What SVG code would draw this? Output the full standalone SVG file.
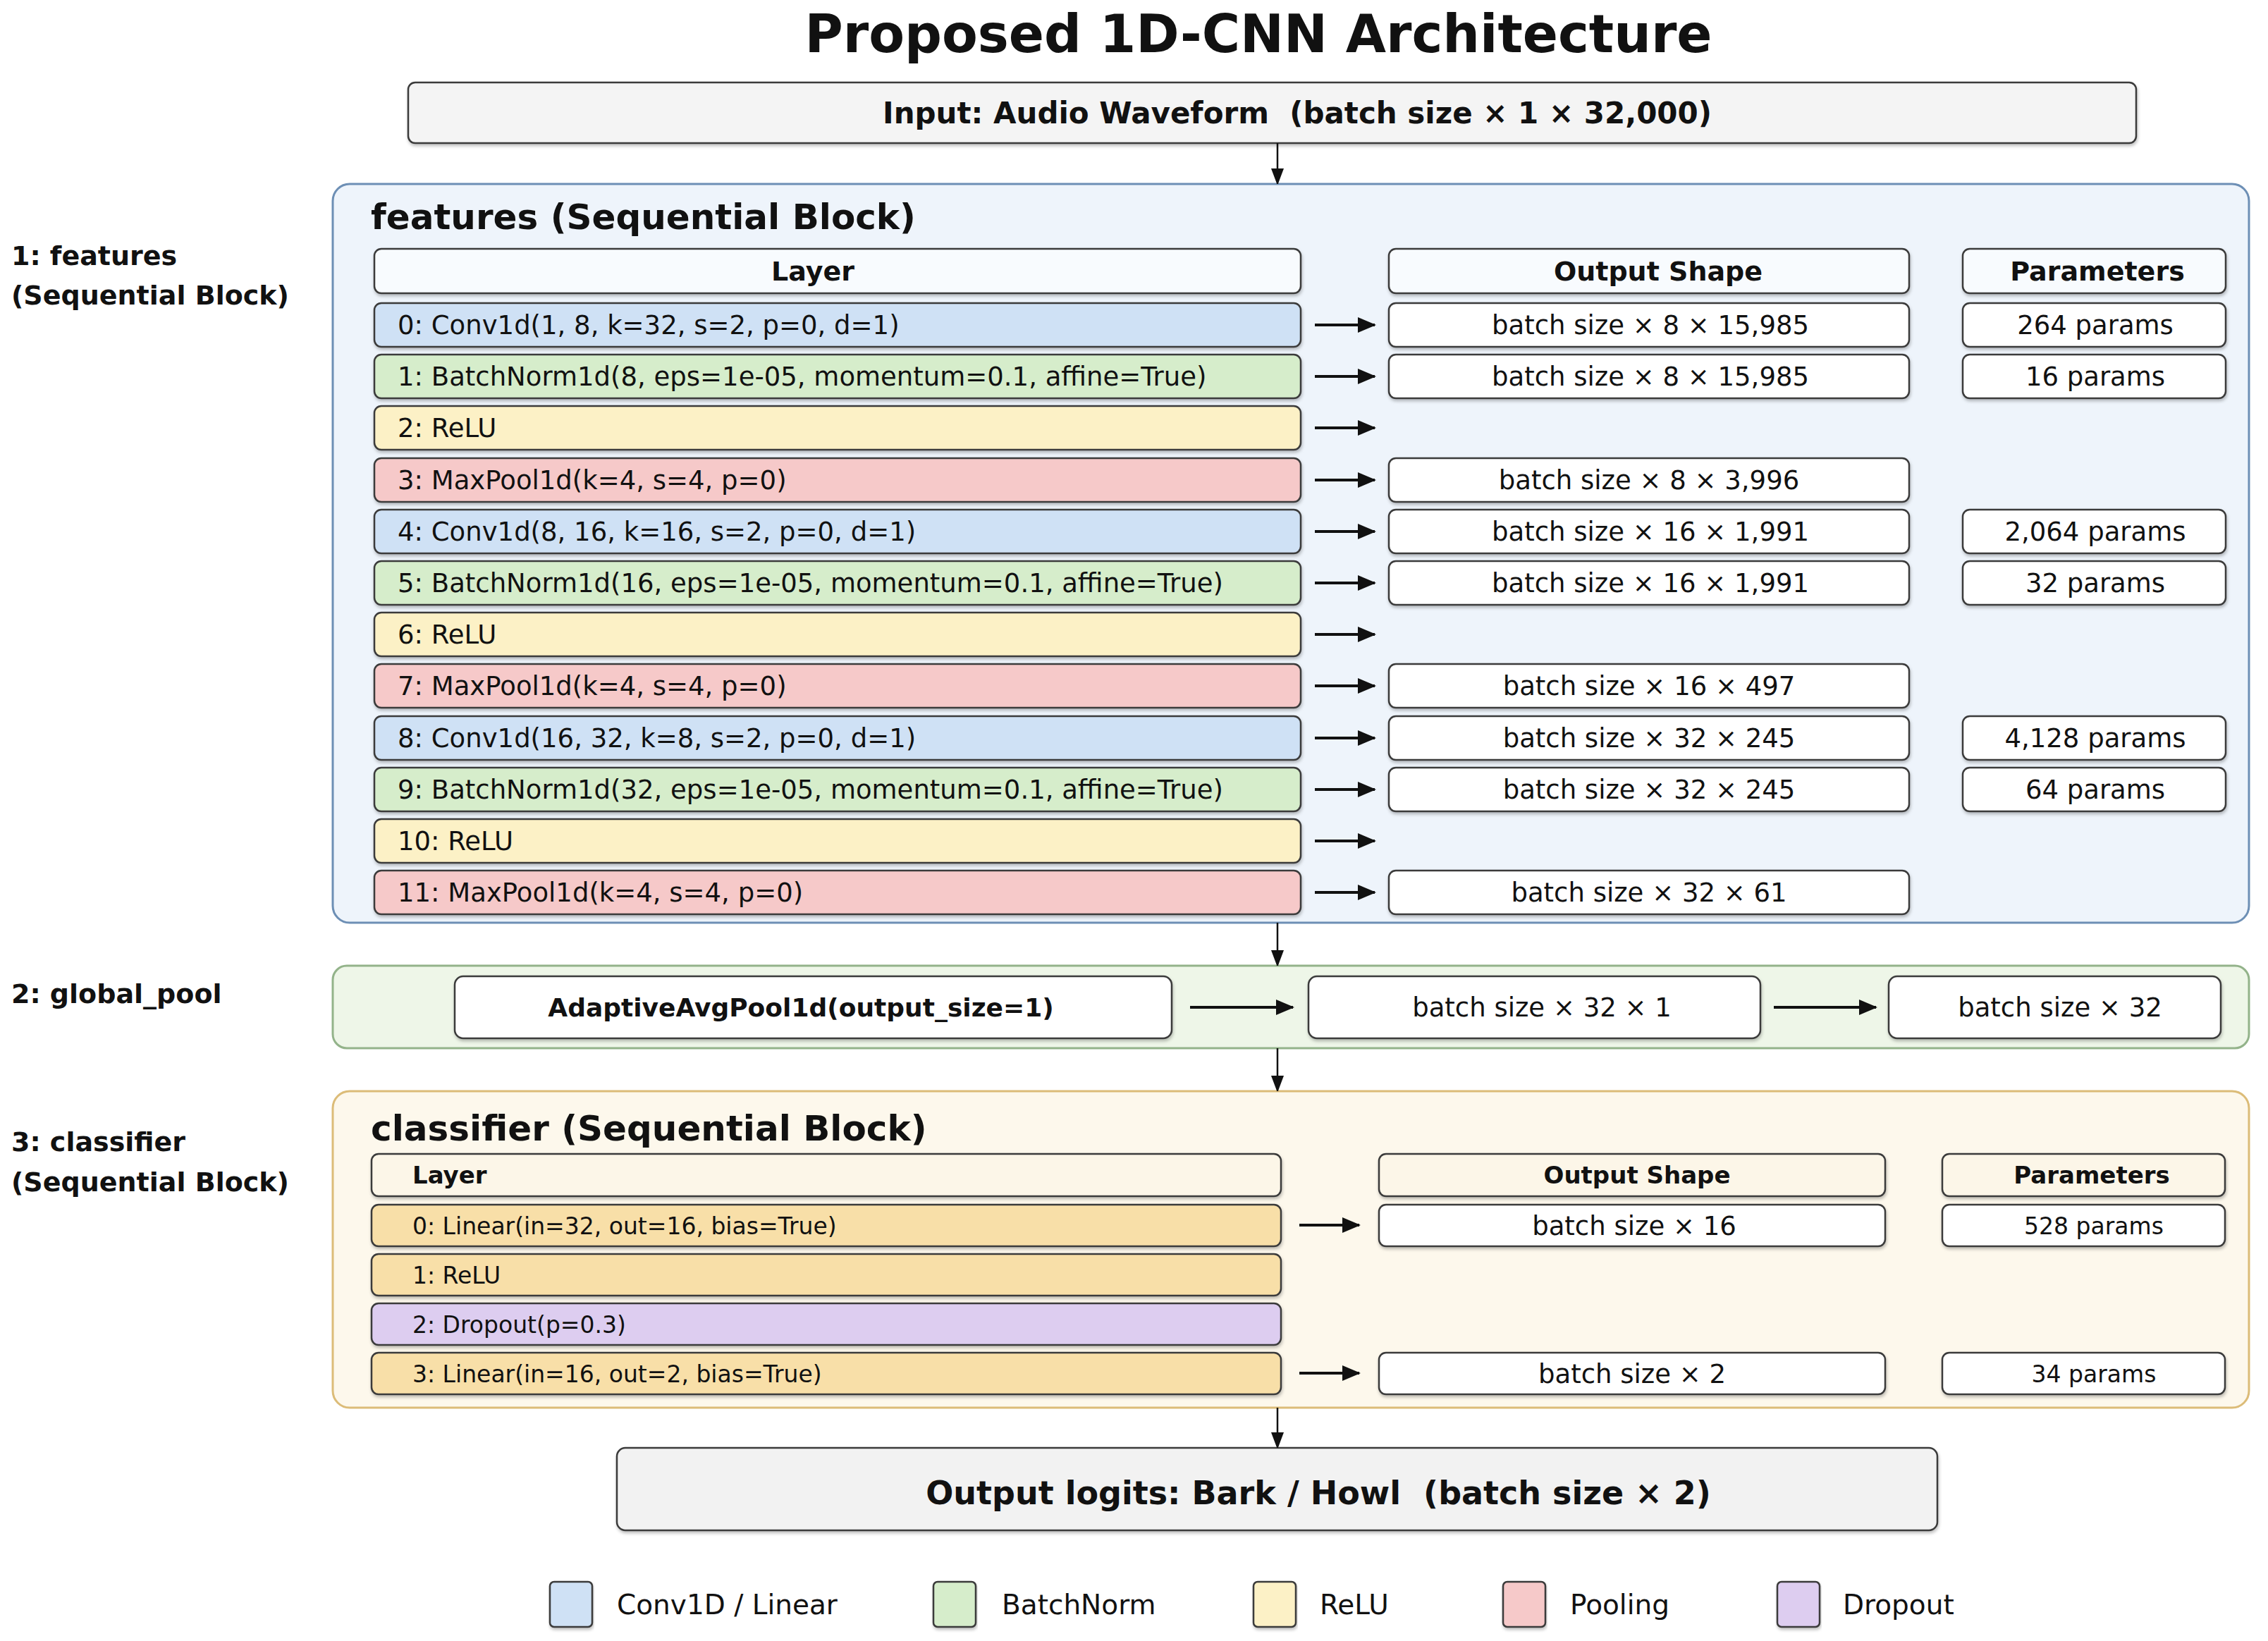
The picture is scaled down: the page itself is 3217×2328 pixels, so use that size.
<svg xmlns="http://www.w3.org/2000/svg" width="3217" height="2328" viewBox="0 0 3217 2328">
<defs>
<style>
text{font-family:"DejaVu Sans","Liberation Sans",sans-serif;fill:#111}
.b{font-weight:bold}
.t1{font-size:37px}
.t2{font-size:33px}
.hd{font-size:38px;font-weight:bold}
.hd2{font-size:34px;font-weight:bold}
.c{text-anchor:middle}
.box{stroke:#3a3a3a;stroke-width:2.5;filter:url(#sh)}
.w{fill:#ffffff}
.hf{fill:#f8fbfe}
.hc{fill:#fcf6e8}
.conv{fill:#cfe1f5}
.bn{fill:#d6edcb}
.relu{fill:#fcf1c6}
.pool{fill:#f6c9c9}
.lin{fill:#f8dfa8}
.drop{fill:#ddcdf0}
.ar{stroke:#111;stroke-width:4;fill:none;marker-end:url(#ah)}
.av{stroke:#111;stroke-width:2.5;fill:none;marker-end:url(#av)}
</style>
<filter id="sh" x="-5%" y="-20%" width="110%" height="150%">
<feDropShadow dx="1" dy="3" stdDeviation="2" flood-color="#000" flood-opacity="0.25"/>
</filter>
<marker id="ah" markerUnits="userSpaceOnUse" markerWidth="26" markerHeight="24" refX="24" refY="12" orient="auto">
<path d="M0,1 L26,12 L0,23 Z" fill="#111"/>
</marker>
<marker id="av" markerUnits="userSpaceOnUse" markerWidth="20" markerHeight="24" refX="22" refY="9" orient="auto">
<path d="M0,0 L24,9 L0,18 Z" fill="#111"/>
</marker>
</defs>
<rect width="3217" height="2328" fill="#ffffff"/>

<text class="b c" x="1785" y="74" font-size="74">Proposed 1D-CNN Architecture</text>

<!-- side labels -->
<g id="side-labels">
<text class="b" x="16" y="376" font-size="38">1: features</text>
<text class="b" x="16" y="432" font-size="38">(Sequential Block)</text>
<text class="b" x="16" y="1423" font-size="38">2: global_pool</text>
<text class="b" x="16" y="1633" font-size="38">3: classifier</text>
<text class="b" x="16" y="1690" font-size="38">(Sequential Block)</text>
</g>

<!-- containers -->
<g id="features-block">
<rect x="472" y="261" width="2718" height="1048" rx="24" fill="#eef4fb" stroke="#6d8fb5" stroke-width="3"/>
<text class="b" x="526" y="325" font-size="50">features (Sequential Block)</text>
</g>
<g id="global-pool-block">
<rect x="472" y="1370" width="2718" height="117" rx="20" fill="#eef6e8" stroke="#93b38a" stroke-width="3"/>
</g>
<g id="classifier-block">
<rect x="472" y="1548" width="2718" height="449" rx="24" fill="#fdf8ec" stroke="#dcbc78" stroke-width="3"/>
<text class="b" x="526" y="1618" font-size="50">classifier (Sequential Block)</text>
</g>

<!-- input / output -->
<g id="input">
<rect class="box" x="579" y="117" width="2451" height="86" rx="10" fill="#f4f4f4"/>
<text class="b c" x="1840" y="175" font-size="42" xml:space="preserve">Input: Audio Waveform  (batch size × 1 × 32,000)</text>
</g>
<g id="output">
<rect class="box" x="875" y="2054" width="1873" height="117" rx="12" fill="#f2f2f2"/>
<text class="b c" x="1870" y="2134" font-size="46" xml:space="preserve">Output logits: Bark / Howl  (batch size × 2)</text>
</g>

<!-- features headers -->
<g id="features-headers">
<rect class="box hf" x="531" y="353" width="1314" height="63" rx="10"/>
<text class="hd c" x="1153" y="398">Layer</text>
<rect class="box hf" x="1970" y="353" width="738" height="63" rx="10"/>
<text class="hd c" x="2352" y="398">Output Shape</text>
<rect class="box hf" x="2784" y="353" width="373" height="63" rx="10"/>
<text class="hd c" x="2975" y="398">Parameters</text>
</g>

<!-- features rows -->
<g id="f0"><rect class="box conv" x="531" y="430" width="1314" height="62" rx="10"/><text class="t1" x="564" y="474">0: Conv1d(1, 8, k=32, s=2, p=0, d=1)</text>
<rect class="box w" x="1970" y="430" width="738" height="62" rx="10"/><text class="t1 c" x="2341" y="474">batch size × 8 × 15,985</text>
<rect class="box w" x="2784" y="430" width="373" height="62" rx="10"/><text class="t1 c" x="2972" y="474">264 params</text></g>

<g id="f1"><rect class="box bn" x="531" y="503" width="1314" height="62" rx="10"/><text class="t1" x="564" y="547">1: BatchNorm1d(8, eps=1e-05, momentum=0.1, affine=True)</text>
<rect class="box w" x="1970" y="503" width="738" height="62" rx="10"/><text class="t1 c" x="2341" y="547">batch size × 8 × 15,985</text>
<rect class="box w" x="2784" y="503" width="373" height="62" rx="10"/><text class="t1 c" x="2972" y="547">16 params</text></g>

<g id="f2"><rect class="box relu" x="531" y="576" width="1314" height="62" rx="10"/><text class="t1" x="564" y="620">2: ReLU</text></g>

<g id="f3"><rect class="box pool" x="531" y="650" width="1314" height="62" rx="10"/><text class="t1" x="564" y="694">3: MaxPool1d(k=4, s=4, p=0)</text>
<rect class="box w" x="1970" y="650" width="738" height="62" rx="10"/><text class="t1 c" x="2339" y="694">batch size × 8 × 3,996</text></g>

<g id="f4"><rect class="box conv" x="531" y="723" width="1314" height="62" rx="10"/><text class="t1" x="564" y="767">4: Conv1d(8, 16, k=16, s=2, p=0, d=1)</text>
<rect class="box w" x="1970" y="723" width="738" height="62" rx="10"/><text class="t1 c" x="2341" y="767">batch size × 16 × 1,991</text>
<rect class="box w" x="2784" y="723" width="373" height="62" rx="10"/><text class="t1 c" x="2972" y="767">2,064 params</text></g>

<g id="f5"><rect class="box bn" x="531" y="796" width="1314" height="62" rx="10"/><text class="t1" x="564" y="840">5: BatchNorm1d(16, eps=1e-05, momentum=0.1, affine=True)</text>
<rect class="box w" x="1970" y="796" width="738" height="62" rx="10"/><text class="t1 c" x="2341" y="840">batch size × 16 × 1,991</text>
<rect class="box w" x="2784" y="796" width="373" height="62" rx="10"/><text class="t1 c" x="2972" y="840">32 params</text></g>

<g id="f6"><rect class="box relu" x="531" y="869" width="1314" height="62" rx="10"/><text class="t1" x="564" y="913">6: ReLU</text></g>

<g id="f7"><rect class="box pool" x="531" y="942" width="1314" height="62" rx="10"/><text class="t1" x="564" y="986">7: MaxPool1d(k=4, s=4, p=0)</text>
<rect class="box w" x="1970" y="942" width="738" height="62" rx="10"/><text class="t1 c" x="2339" y="986">batch size × 16 × 497</text></g>

<g id="f8"><rect class="box conv" x="531" y="1016" width="1314" height="62" rx="10"/><text class="t1" x="564" y="1060">8: Conv1d(16, 32, k=8, s=2, p=0, d=1)</text>
<rect class="box w" x="1970" y="1016" width="738" height="62" rx="10"/><text class="t1 c" x="2339" y="1060">batch size × 32 × 245</text>
<rect class="box w" x="2784" y="1016" width="373" height="62" rx="10"/><text class="t1 c" x="2972" y="1060">4,128 params</text></g>

<g id="f9"><rect class="box bn" x="531" y="1089" width="1314" height="62" rx="10"/><text class="t1" x="564" y="1133">9: BatchNorm1d(32, eps=1e-05, momentum=0.1, affine=True)</text>
<rect class="box w" x="1970" y="1089" width="738" height="62" rx="10"/><text class="t1 c" x="2339" y="1133">batch size × 32 × 245</text>
<rect class="box w" x="2784" y="1089" width="373" height="62" rx="10"/><text class="t1 c" x="2972" y="1133">64 params</text></g>

<g id="f10"><rect class="box relu" x="531" y="1162" width="1314" height="62" rx="10"/><text class="t1" x="564" y="1206">10: ReLU</text></g>

<g id="f11"><rect class="box pool" x="531" y="1235" width="1314" height="62" rx="10"/><text class="t1" x="564" y="1279">11: MaxPool1d(k=4, s=4, p=0)</text>
<rect class="box w" x="1970" y="1235" width="738" height="62" rx="10"/><text class="t1 c" x="2339" y="1279">batch size × 32 × 61</text></g>

<!-- global pool -->
<g id="gp0"><rect class="box w" x="645" y="1385" width="1017" height="88" rx="12"/><text class="b c" x="1136" y="1442" font-size="36">AdaptiveAvgPool1d(output_size=1)</text></g>
<g id="gp1"><rect class="box w" x="1856" y="1385" width="641" height="88" rx="12"/><text class="t1 c" x="2187" y="1442">batch size × 32 × 1</text></g>
<g id="gp2"><rect class="box w" x="2679" y="1385" width="471" height="88" rx="12"/><text class="t1 c" x="2922" y="1442">batch size × 32</text></g>

<!-- classifier headers -->
<g id="classifier-headers">
<rect class="box hc" x="527" y="1637" width="1290" height="60" rx="10"/>
<text class="hd2" x="585" y="1679">Layer</text>
<rect class="box hc" x="1956" y="1637" width="718" height="60" rx="10"/>
<text class="hd2 c" x="2322" y="1679">Output Shape</text>
<rect class="box hc" x="2755" y="1637" width="401" height="60" rx="10"/>
<text class="hd2 c" x="2967" y="1679">Parameters</text>
</g>

<g id="c0"><rect class="box lin" x="527" y="1709" width="1290" height="59" rx="10"/><text class="t2" x="585" y="1751">0: Linear(in=32, out=16, bias=True)</text>
<rect class="box w" x="1956" y="1709" width="718" height="59" rx="10"/><text class="t1 c" x="2318" y="1752">batch size × 16</text>
<rect class="box w" x="2755" y="1709" width="401" height="59" rx="10"/><text class="t2 c" x="2970" y="1751">528 params</text></g>

<g id="c1"><rect class="box lin" x="527" y="1779" width="1290" height="59" rx="10"/><text class="t2" x="585" y="1821">1: ReLU</text></g>

<g id="c2"><rect class="box drop" x="527" y="1849" width="1290" height="59" rx="10"/><text class="t2" x="585" y="1891">2: Dropout(p=0.3)</text></g>

<g id="c3"><rect class="box lin" x="527" y="1919" width="1290" height="59" rx="10"/><text class="t2" x="585" y="1961">3: Linear(in=16, out=2, bias=True)</text>
<rect class="box w" x="1956" y="1919" width="718" height="59" rx="10"/><text class="t1 c" x="2315" y="1962">batch size × 2</text>
<rect class="box w" x="2755" y="1919" width="401" height="59" rx="10"/><text class="t2 c" x="2970" y="1961">34 params</text></g>

<!-- connectors -->
<g id="connectors">
<line class="av" x1="1812" y1="203" x2="1812" y2="261"/>
<line class="av" x1="1812" y1="1309" x2="1812" y2="1370"/>
<line class="av" x1="1812" y1="1487" x2="1812" y2="1548"/>
<line class="av" x1="1812" y1="1997" x2="1812" y2="2054"/>
<line class="ar" x1="1865" y1="461" x2="1950" y2="461"/>
<line class="ar" x1="1865" y1="534" x2="1950" y2="534"/>
<line class="ar" x1="1865" y1="607" x2="1950" y2="607"/>
<line class="ar" x1="1865" y1="681" x2="1950" y2="681"/>
<line class="ar" x1="1865" y1="754" x2="1950" y2="754"/>
<line class="ar" x1="1865" y1="827" x2="1950" y2="827"/>
<line class="ar" x1="1865" y1="900" x2="1950" y2="900"/>
<line class="ar" x1="1865" y1="973" x2="1950" y2="973"/>
<line class="ar" x1="1865" y1="1047" x2="1950" y2="1047"/>
<line class="ar" x1="1865" y1="1120" x2="1950" y2="1120"/>
<line class="ar" x1="1865" y1="1193" x2="1950" y2="1193"/>
<line class="ar" x1="1865" y1="1266" x2="1950" y2="1266"/>
<line class="ar" x1="1688" y1="1429" x2="1834" y2="1429"/>
<line class="ar" x1="2516" y1="1429" x2="2661" y2="1429"/>
<line class="ar" x1="1843" y1="1738" x2="1928" y2="1738"/>
<line class="ar" x1="1843" y1="1948" x2="1928" y2="1948"/>
</g>

<!-- legend -->
<g id="legend">
<rect class="box conv" x="780" y="2244" width="60" height="64" rx="6"/><text x="875" y="2290" font-size="39">Conv1D / Linear</text>
<rect class="box bn" x="1324" y="2244" width="60" height="64" rx="6"/><text x="1421" y="2290" font-size="39">BatchNorm</text>
<rect class="box relu" x="1778" y="2244" width="60" height="64" rx="6"/><text x="1872" y="2290" font-size="39">ReLU</text>
<rect class="box pool" x="2132" y="2244" width="60" height="64" rx="6"/><text x="2227" y="2290" font-size="39">Pooling</text>
<rect class="box drop" x="2521" y="2244" width="60" height="64" rx="6"/><text x="2614" y="2290" font-size="39">Dropout</text>
</g>
</svg>
